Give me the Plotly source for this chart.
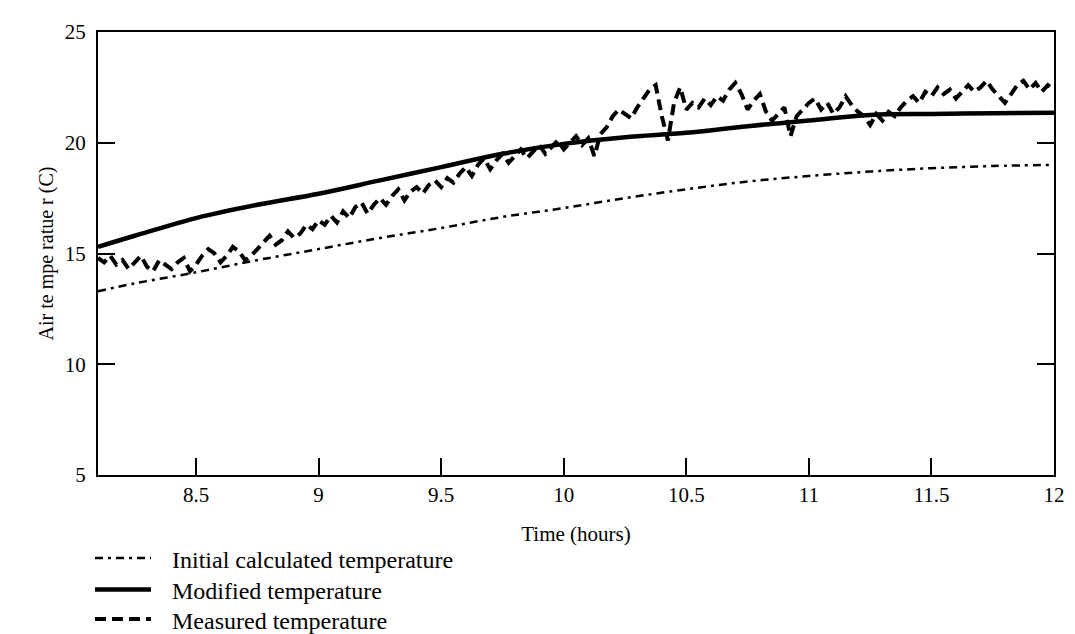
import plotly.graph_objects as go

# Model curves (hours, deg C)
model_time = [8.1, 8.25, 8.5, 8.75, 9.0, 9.25, 9.5, 9.75, 10.0, 10.25, 10.5, 10.75, 11.0, 11.25, 11.5, 11.75, 12.0]
initial_temp = [13.3, 13.65, 14.15, 14.7, 15.2, 15.7, 16.15, 16.65, 17.05, 17.5, 17.9, 18.25, 18.5, 18.7, 18.85, 18.95, 19.0]
modified_temp = [15.3, 15.8, 16.6, 17.2, 17.7, 18.3, 18.9, 19.5, 19.95, 20.25, 20.45, 20.75, 21.0, 21.25, 21.3, 21.33, 21.35]

# Measured series, sampled every 0.025 h from 8.1 h
meas_start = 8.1
meas_step = 0.025
measured_temp = [
    14.8, 14.6, 14.9, 14.5, 14.7, 14.3, 14.6, 14.9, 14.4, 14.2, 14.7, 14.5, 14.3, 14.6, 14.8, 14.2, 14.5,
    14.9, 15.2, 15.0, 14.6, 14.9, 15.3, 15.1, 14.7, 14.9, 15.2, 15.5, 15.8, 15.4, 15.6, 16.0, 15.7, 15.9, 16.3, 16.1, 16.5,
    16.3, 16.7, 16.4, 16.9, 16.6, 17.1, 17.3, 16.8, 17.2, 17.5, 17.2, 17.6, 17.9, 17.4, 17.8, 18.0, 17.7, 18.1, 18.3, 18.0,
    18.4, 18.2, 18.6, 18.9, 18.5, 19.0, 19.3, 18.8, 19.2, 19.5, 19.1, 19.4, 19.7, 19.3, 19.6, 19.9, 19.5, 19.8, 20.1, 19.7,
    20.0, 20.3, 19.9, 20.2, 19.4, 20.4, 20.7, 21.2, 21.5, 21.3, 21.1, 21.6, 22.0, 22.4, 22.6, 21.2, 20.1, 21.8, 22.5, 21.5,
    21.8, 21.6, 22.0, 21.7, 22.1, 21.9, 22.4, 22.7, 22.2, 21.5, 21.9, 22.2, 21.4, 21.0, 21.3, 21.6, 20.3, 21.2, 21.5, 21.8,
    22.0, 21.5, 21.8, 21.3, 21.6, 22.1, 21.7, 21.4, 21.2, 20.8, 21.3, 21.0, 21.4, 21.2, 21.6, 21.9, 22.1, 21.8, 22.3, 22.1,
    22.5, 22.2, 22.4, 22.0, 22.3, 22.6, 22.3, 22.5, 22.8, 22.4, 22.1, 21.8, 22.2, 22.6, 22.8, 22.4, 22.7, 22.3, 22.6, 22.4,
]
meas_time = [round(meas_start + meas_step * i, 3) for i in range(len(measured_temp))]

series_names = ["Initial calculated temperature", "Modified temperature", "Measured temperature"]
x_ticks = [8.5, 9, 9.5, 10, 10.5, 11, 11.5, 12]
y_ticks = [5, 10, 15, 20, 25]

FONT = "Liberation Serif"
W, H = 1075, 634
ML, MR, MT, MB = 90, 29, 18, 167
styles = [
    dict(color="black", width=2.5, dash="8px,5px,3px,5px"),
    dict(color="black", width=4.5),
    dict(color="black", width=4, dash="11px,6px"),
]

fig = go.Figure()
fig.add_trace(go.Scatter(x=model_time, y=initial_temp, mode="lines", name=series_names[0],
                         line=dict(styles[0], shape="spline")))
fig.add_trace(go.Scatter(x=model_time, y=modified_temp, mode="lines", name=series_names[1],
                         line=dict(styles[1], shape="spline")))
fig.add_trace(go.Scatter(x=meas_time, y=measured_temp, mode="lines", name=series_names[2],
                         line=dict(styles[2])))

# Legend drawn below the plot, left aligned (paper coordinates)
ph = H - MT - MB
pw = W - ML - MR
def px_to_paper_y(py):
    return (H - MB - py) / ph
def px_to_paper_x(px):
    return (px - ML) / pw

row_y = [553, 585, 615]
for name, st, yy in zip(series_names, styles, row_y):
    fig.add_shape(type="line", xref="paper", yref="paper",
                  x0=px_to_paper_x(87), x1=px_to_paper_x(143),
                  y0=px_to_paper_y(yy - 2), y1=px_to_paper_y(yy - 2),
                  line=st)
    fig.add_annotation(xref="paper", yref="paper", x=px_to_paper_x(162), y=px_to_paper_y(yy),
                       text=name, showarrow=False, xanchor="left", yanchor="middle",
                       font=dict(family=FONT, size=24, color="black"))

fig.update_layout(
    width=W, height=H,
    margin=dict(l=ML, r=MR, t=MT, b=MB),
    paper_bgcolor="white", plot_bgcolor="white",
    font=dict(family=FONT, color="black", size=20),
    showlegend=False,
    xaxis=dict(range=[8.1, 12], tickvals=x_ticks, ticktext=[str(v) for v in x_ticks],
               ticks="inside", ticklen=17, tickwidth=2, tickcolor="black",
               showline=True, linewidth=2, linecolor="black", mirror=True,
               showgrid=False, zeroline=False,
               title=dict(text="Time (hours)", font=dict(family=FONT, size=21), standoff=20),
               tickfont=dict(family=FONT, size=21)),
    yaxis=dict(range=[5, 25], tickvals=y_ticks, ticks="inside", ticklen=17, tickwidth=2, tickcolor="black",
               showline=True, linewidth=2, linecolor="black", mirror="allticks",
               showgrid=False, zeroline=False, ticklabelstandoff=6,
               title=dict(text="Air te mpe ratue r (C)", font=dict(family=FONT, size=20), standoff=6),
               tickfont=dict(family=FONT, size=21)),
)

fig.write_html("out.html")
